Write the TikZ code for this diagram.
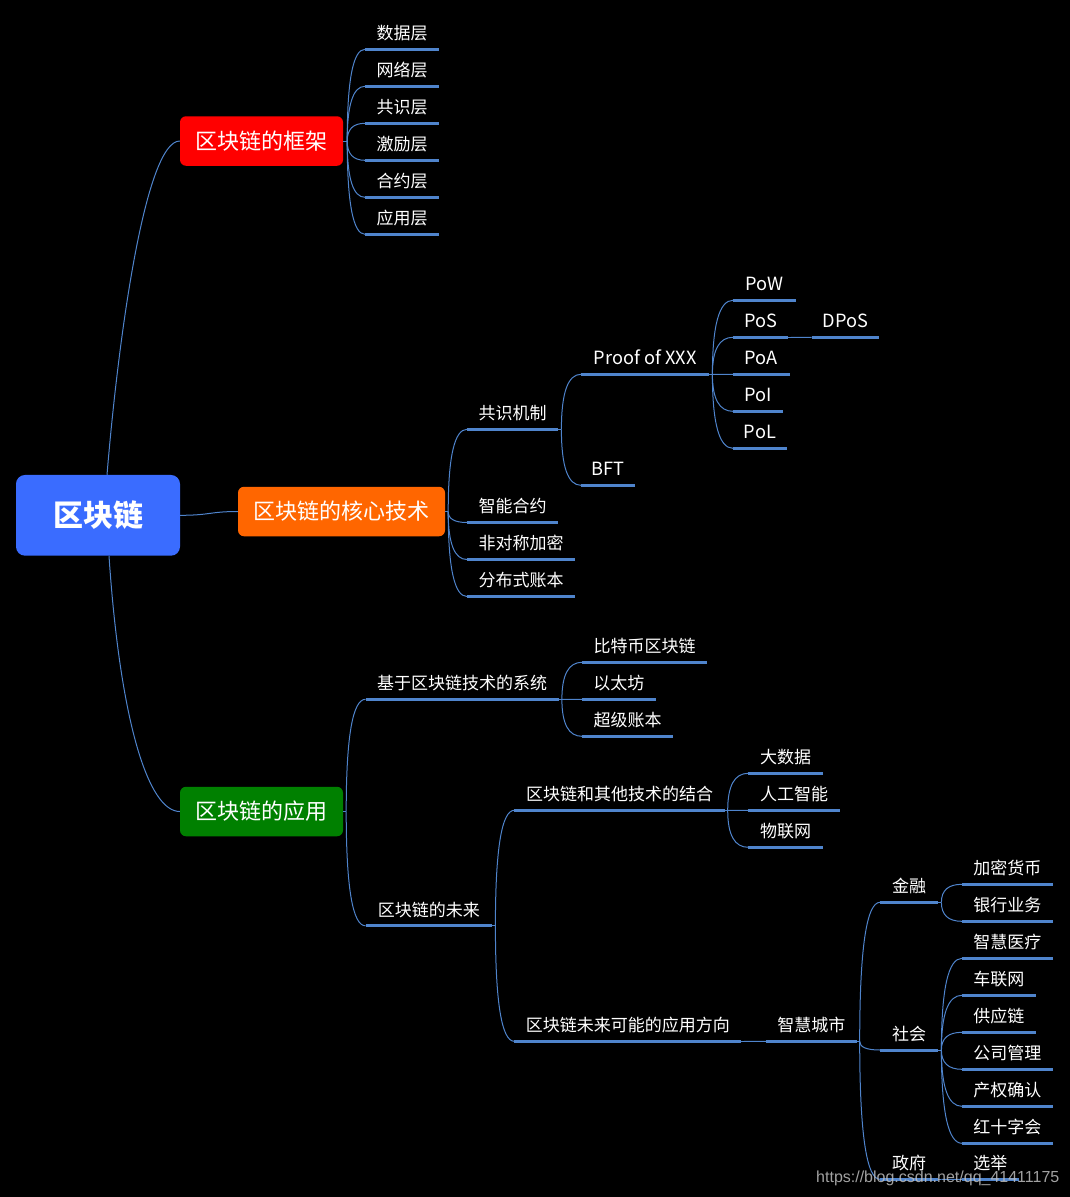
\documentclass[tikz,border=0pt]{standalone}
\usepackage{fontspec}
\setmainfont{Noto Sans CJK SC}
\newfontfamily\wmfont{Liberation Sans}
\usetikzlibrary{calc}
\definecolor{linec}{RGB}{79,132,204}
\definecolor{rootc}{RGB}{58,108,255}
\definecolor{redc}{RGB}{255,0,0}
\definecolor{orangec}{RGB}{255,102,0}
\definecolor{greenc}{RGB}{0,128,0}
\definecolor{wmc}{RGB}{190,190,190}
\newcommand\drawul[1]{\draw[uline] (#1.south west) -- (#1.south east);}
\newcommand\startul[1]{\coordinate (#1O) at ($(#1.south east)+(3,0)$);\draw[conn] (#1.south east) -- (#1O);}
\newcommand\startbox[2]{\coordinate (#1O) at ($(#1.east)+(#2,0)$);\draw[conn] (#1.east) -- (#1O);}
\newcommand\branchto[2]{\draw[conn] (#1O) .. controls ($(#1O)!0.667!(#1O|-#2.south west)$) and ($(#2.south west)!0.667!(#1O|-#2.south west)$) .. (#2.south west);}
\begin{document}
\begin{tikzpicture}[x=1pt,y=-1pt,
  item/.style={anchor=south west, inner xsep=0pt, inner ysep=5.5pt, text height=13pt, text depth=4pt,
    font=\fontsize{17}{20}\selectfont, text=white, align=center, minimum width=#1},
  latin/.style={font=\fontsize{18.2}{21}\selectfont},
  topic/.style={rounded corners=6pt, fill=#1, text=white, font=\fontsize{22}{26}\selectfont,
    inner sep=0pt, minimum height=49.5pt},
  rootbox/.style={rounded corners=9pt, fill=rootc, text=white, font=\fontsize{30}{34}\selectfont\bfseries,
    inner sep=0pt, minimum width=164pt, minimum height=80.7pt},
  conn/.style={draw=linec, line width=1pt},
  uline/.style={draw=linec, line width=3pt},
]
\fill[black] (0,0) rectangle (1070,1197);
\useasboundingbox (0,0) rectangle (1070,1197);

% ---- main nodes
\node[rootbox] (root) at (98,515.3) {区块链};
\node[topic=redc, minimum width=163pt] (fr) at (261.5,141) {区块链的框架};
\node[topic=orangec, minimum width=207pt] (core) at (341.5,511.5) {区块链的核心技术};
\node[topic=greenc, minimum width=163pt] (app) at (261.5,811.5) {区块链的应用};

% ---- framework children
\node[item=74pt] (ds) at (365,49.3) {数据层};
\node[item=74pt] (wl) at (365,86.3) {网络层};
\node[item=74pt] (gsc) at (365,123.3) {共识层};
\node[item=74pt] (jl) at (365,160.3) {激励层};
\node[item=74pt] (hy) at (365,197.3) {合约层};
\node[item=74pt] (yy) at (365,234.3) {应用层};

% ---- core children
\node[item=91pt] (gsjz) at (467,429.3) {共识机制};
\node[item=91pt] (znhy) at (467,522.5) {智能合约};
\node[item=108pt] (fdc) at (467,559.5) {非对称加密};
\node[item=108pt] (fbs) at (467,596.5) {分布式账本};
\node[item=128pt, latin] (pox) at (581,374.3) {Proof of XXX};
\node[item=54pt, latin] (bft) at (581,485.3) {BFT};
\node[item=62.5pt, latin] (pow) at (733,300.3) {PoW};
\node[item=54.5pt, latin] (pos) at (733,337.3) {PoS};
\node[item=66.7pt, latin] (dpos) at (811.7,337.3) {DPoS};
\node[item=56.3pt, latin] (poa) at (733,374.3) {PoA};
\node[item=49.5pt, latin] (poi) at (733,411.3) {PoI};
\node[item=53.5pt, latin] (pol) at (733,448.3) {PoL};

% ---- application children
\node[item=193pt] (jyxt) at (365.5,699.3) {基于区块链技术的系统};
\node[item=126.5pt] (wlai) at (365.5,925.8) {区块链的未来};
\node[item=125pt] (btb) at (582,662.3) {比特币区块链};
\node[item=73.5pt] (ytf) at (582,699.3) {以太坊};
\node[item=91pt] (cjzb) at (582,736.3) {超级账本};
\node[item=210pt] (jh) at (514.3,810.3) {区块链和其他技术的结合};
\node[item=74.3pt] (dsj) at (748.3,773.3) {大数据};
\node[item=91pt] (rgzn) at (748.3,810.3) {人工智能};
\node[item=74.3pt] (wlw) at (748.3,847.3) {物联网};
\node[item=226.5pt] (fx) at (514.3,1041.3) {区块链未来可能的应用方向};
\node[item=90.3pt] (zhcs) at (766,1041.3) {智慧城市};
\node[item=58pt] (jr) at (880,902.3) {金融};
\node[item=58pt] (sh) at (880,1050) {社会};
\node[item=58pt] (zf) at (880,1179.3) {政府};
\node[item=90.5pt] (jmhb) at (962,884.3) {加密货币};
\node[item=90.5pt] (yhyw) at (962,921.3) {银行业务};
\node[item=90.5pt] (zhyl) at (962,958.3) {智慧医疗};
\node[item=73.5pt] (clw) at (962,995.3) {车联网};
\node[item=73.5pt] (gyl) at (962,1032.3) {供应链};
\node[item=90.5pt] (gsgl) at (962,1069.3) {公司管理};
\node[item=90.5pt] (cqqr) at (962,1106.3) {产权确认};
\node[item=90.5pt] (hszh) at (962,1143.3) {红十字会};
\node[item=56.5pt] (xj) at (962,1179.3) {选举};

% ---- underlines
\foreach \n in {ds,wl,gsc,jl,hy,yy,gsjz,znhy,fdc,fbs,pox,bft,pow,pos,dpos,poa,poi,pol,
  jyxt,wlai,btb,ytf,cjzb,jh,dsj,rgzn,wlw,fx,zhcs,jr,sh,zf,jmhb,yhyw,zhyl,clw,gyl,gsgl,cqqr,hszh,xj}{\drawul{\n}}

% ---- root connectors
\draw[conn] ($(root.north)+(9,0)$) .. controls (119,330) and (146,141) .. (fr.west);
\draw[conn] ($(root.south)+(11,0)$) .. controls (120,720) and (148,811.5) .. (app.west);
\draw[conn] (root.east) .. controls (210,515.3) and (210,511.5) .. (core.west);

% ---- branches
\startbox{fr}{4}
\foreach \c in {ds,wl,gsc,jl,hy,yy}{\branchto{fr}{\c}}
\startbox{core}{3}
\foreach \c in {gsjz,znhy,fdc,fbs}{\branchto{core}{\c}}
\startul{gsjz}
\foreach \c in {pox,bft}{\branchto{gsjz}{\c}}
\startul{pox}
\foreach \c in {pow,pos,poa,poi,pol}{\branchto{pox}{\c}}
\startul{pos}
\branchto{pos}{dpos}
\startbox{app}{3}
\foreach \c in {jyxt,wlai}{\branchto{app}{\c}}
\startul{jyxt}
\foreach \c in {btb,ytf,cjzb}{\branchto{jyxt}{\c}}
\startul{wlai}
\foreach \c in {jh,fx}{\branchto{wlai}{\c}}
\startul{jh}
\foreach \c in {dsj,rgzn,wlw}{\branchto{jh}{\c}}
\startul{fx}
\branchto{fx}{zhcs}
\startul{zhcs}
\foreach \c in {jr,sh,zf}{\branchto{zhcs}{\c}}
\startul{jr}
\foreach \c in {jmhb,yhyw}{\branchto{jr}{\c}}
\startul{sh}
\foreach \c in {zhyl,clw,gyl,gsgl,cqqr,hszh}{\branchto{sh}{\c}}
\startul{zf}
\branchto{zf}{xj}

% ---- watermark
\node[anchor=west, inner sep=0pt, text=wmc, opacity=0.85, font=\wmfont\fontsize{16}{19}\selectfont] (wm) at (816,1178) {https://blog.csdn.net/qq\_41411175};
\end{tikzpicture}
\end{document}
